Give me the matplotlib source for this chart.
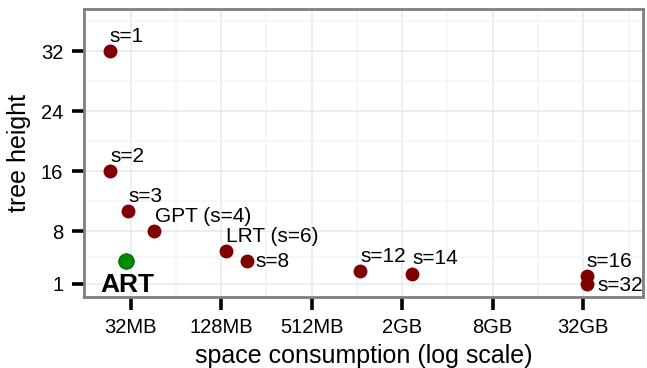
import numpy as np
import matplotlib.pyplot as plt
from matplotlib.ticker import FixedLocator, NullFormatter

plt.rcParams['font.family'] = ['Liberation Sans', 'DejaVu Sans']

# space in MB, tree height
labels = ['s=1', 's=2', 's=3', 'GPT (s=4)', 'LRT (s=6)', 's=8', 's=12', 's=14', 's=16', 's=32']
space_mb = [23.3, 23.2, 30.9, 46.0, 138.0, 190.0, 1068.0, 2390.0, 34500.0, 34500.0]
height = [32, 16, 10.67, 8, 5.33, 4, 2.67, 2.29, 2, 1]
art_space = 30.0
art_height = 4

xticks = [32, 128, 512, 2048, 8192, 32768]
xticklabels = ['32MB', '128MB', '512MB', '2GB', '8GB', '32GB']
yticks = [1, 8, 16, 24, 32]

# label offsets in pixels (dx, dy of baseline) relative to the point
offs = [(0, 9.5), (1, 9.5), (0, 9.5), (1, 9.5), (0, 9.5), (8, -6), (1, 9.5), (0, 10), (0, 9.5), (11, -7)]

fig = plt.figure(figsize=(6.47, 3.68), dpi=100)
ax = fig.add_axes([84 / 647, 1 - 297 / 368, (643 - 84) / 647, (297 - 9) / 368])

ax.set_xscale('log', base=2)
ax.set_xlim(2 ** 3.97, 2 ** 16.32)
ax.set_ylim(-0.8, 37.65)

ax.xaxis.set_major_locator(FixedLocator(xticks))
ax.set_xticklabels(xticklabels)
ax.xaxis.set_minor_locator(FixedLocator([16 * 4 ** i for i in range(1, 7)]))
ax.xaxis.set_minor_formatter(NullFormatter())
ax.set_yticks(yticks)
ax.yaxis.set_minor_locator(FixedLocator([4.5, 12, 20, 28, 36]))

ax.grid(which='major', color='#ebebeb', linewidth=1.2)
ax.grid(which='minor', color='#f5f5f5', linewidth=1.2)
ax.set_axisbelow(True)
ax.tick_params(which='minor', length=0)
ax.tick_params(which='major', length=9, width=2.6, color='black', labelsize=14.5, pad=6)

for sp in ax.spines.values():
    sp.set_color('#7f7f7f')
    sp.set_linewidth(2)

ax.scatter(space_mb, height, s=100, color='#800000', zorder=3, linewidths=0)
ax.scatter([art_space], [art_height], s=125, color='#008b00', edgecolors='#005000', linewidths=0.6, zorder=3)

for lab, x, y, (dx, dy) in zip(labels, space_mb, height, offs):
    ax.annotate(lab, (x, y), xytext=(dx * 0.72, dy * 0.72), textcoords='offset points',
                ha='left', va='baseline', fontsize=15, zorder=4)
ax.annotate('ART', (art_space, art_height), xytext=(1 * 0.72, -31 * 0.72), textcoords='offset points',
            ha='center', va='baseline', fontsize=19, fontweight='bold', zorder=4)

ax.set_xlabel('space consumption (log scale)', fontsize=18, labelpad=5)
ax.set_ylabel('tree height', fontsize=18, labelpad=7)

fig.savefig('out.png', dpi=100)
